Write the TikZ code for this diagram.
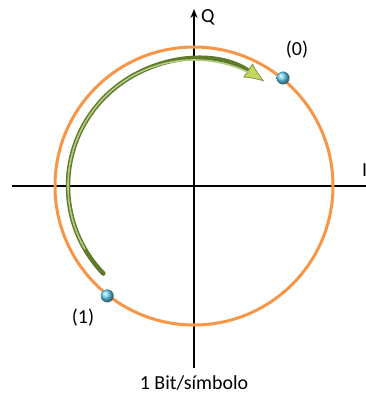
\documentclass[tikz,border=0pt]{standalone}
\usepackage{fontspec}
\setmainfont{Carlito}
\usepackage{tikz}
\usetikzlibrary{arrows.meta, positioning, calc}
\definecolor{myorange}{HTML}{F79646}
\definecolor{mygreen}{HTML}{9BBB59}
\definecolor{mydarkgreen}{HTML}{5E7A2A}
\definecolor{myblue}{HTML}{4CCBEE}
\tikzset{
	axisline/.style={
			draw=black,
			line width=1.6bp
		},
	ringline/.style={
			draw=myorange,
			line width=3bp
		},
	arcouter/.style={
			draw=mydarkgreen,
			line width=4.5bp,
			line cap=round
		},
	arcinner/.style={
			draw=mygreen!75!white,
			line width=1.6bp,
			line cap=round
		},
	symbolnode/.style={
			circle,
			inner sep=0pt,
			minimum size=13bp,
			ball color=myblue!85!white
		},
	labelnode/.style={
			inner sep=0pt,
			font=\fontsize{20}{22}\selectfont
		}
}

\begin{document}
\begin{tikzpicture}[x=1bp, y=1bp]
\useasboundingbox (0,0) rectangle (366,394);

\coordinate (O) at (194,208);
\coordinate (xl) at (12,208);
\coordinate (xr) at (372,208);
\coordinate (yb) at (194,26);
\coordinate (yt) at (194,385);

\draw[axisline] (xl) -- (xr);
\draw[axisline, -{Stealth[length=9bp,width=7bp]}] (yb) -- (yt);

\draw[ringline] (O) circle[radius=139bp];

% green arrow
\draw[arcouter, -{Latex[length=20bp,width=17bp,line width=0.8bp,fill=mygreen!70!yellow!85!white,color=mygreen!80!black]}]
  ($(O)+(224:126)$) arc[start angle=224, end angle=56, radius=126bp];
\draw[arcinner] ($(O)+(210:126)$) arc[start angle=210, end angle=64, radius=126bp];

\node[symbolnode] (s0) at ($(O)+(50.5:140)$) {};
\node[symbolnode] (s1) at ($(O)+(231.7:140)$) {};

\node[labelnode] (l0) at (297,344) {(0)};
\node[labelnode] (l1) at (83,76) {(1)};
\node[labelnode, anchor=west] (q) at (201,377) {Q};
\node[labelnode, anchor=west] (i) at (362,224) {I};
\node[labelnode] (bits) at (194,11) {1 Bit/símbolo};

\end{tikzpicture}
\end{document}
